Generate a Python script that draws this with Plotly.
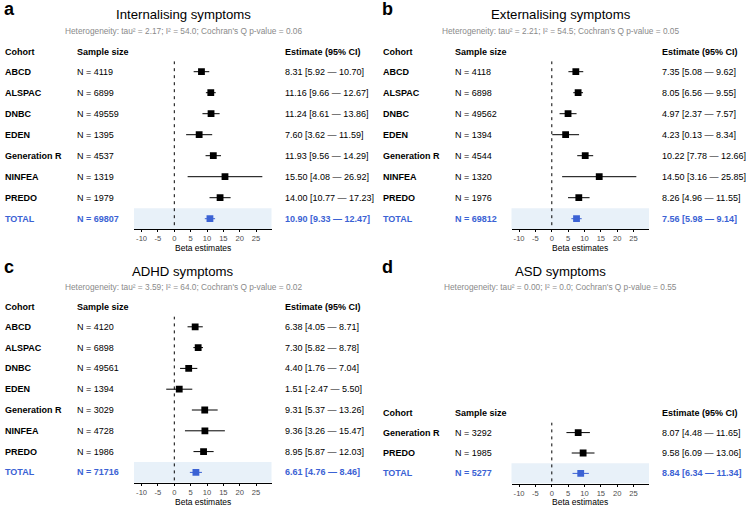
import plotly.graph_objects as go

# ---------------- DATA ----------------
panel_letters = ["a", "b", "c", "d"]
panel_titles = ["Internalising symptoms", "Externalising symptoms", "ADHD symptoms", "ASD symptoms"]

cohorts_7 = ["ABCD", "ALSPAC", "DNBC", "EDEN", "Generation R", "NINFEA", "PREDO"]
cohorts_asd = ["Generation R", "PREDO"]

# a: Internalising
n_int = [4119, 6899, 49559, 1395, 4537, 1319, 1979]
est_int = [8.31, 11.16, 11.24, 7.60, 11.93, 15.50, 14.00]
lo_int = [5.92, 9.66, 8.61, 3.62, 9.56, 4.08, 10.77]
hi_int = [10.70, 12.67, 13.86, 11.59, 14.29, 26.92, 17.23]
tot_int = dict(n=69807, est=10.90, lo=9.33, hi=12.47)
het_int = dict(tau2=2.17, i2=54.0, p=0.06)

# b: Externalising
n_ext = [4118, 6898, 49562, 1394, 4544, 1320, 1976]
est_ext = [7.35, 8.05, 4.97, 4.23, 10.22, 14.50, 8.26]
lo_ext = [5.08, 6.56, 2.37, 0.13, 7.78, 3.16, 4.96]
hi_ext = [9.62, 9.55, 7.57, 8.34, 12.66, 25.85, 11.55]
tot_ext = dict(n=69812, est=7.56, lo=5.98, hi=9.14)
het_ext = dict(tau2=2.21, i2=54.5, p=0.05)

# c: ADHD
n_adhd = [4120, 6898, 49561, 1394, 3029, 4728, 1986]
est_adhd = [6.38, 7.30, 4.40, 1.51, 9.31, 9.36, 8.95]
lo_adhd = [4.05, 5.82, 1.76, -2.47, 5.37, 3.26, 5.87]
hi_adhd = [8.71, 8.78, 7.04, 5.50, 13.26, 15.47, 12.03]
tot_adhd = dict(n=71716, est=6.61, lo=4.76, hi=8.46)
het_adhd = dict(tau2=3.59, i2=64.0, p=0.02)

# d: ASD
n_asd = [3292, 1985]
est_asd = [8.07, 9.58]
lo_asd = [4.48, 6.09]
hi_asd = [11.65, 13.06]
tot_asd = dict(n=5277, est=8.84, lo=6.34, hi=11.34)
het_asd = dict(tau2=0.00, i2=0.0, p=0.55)

x_ticks = [-10, -5, 0, 5, 10, 15, 20, 25]
x_ticktext = ["-10", "-5", "0", "5", "10", "15", "20", "25"]
x_title = "Beta estimates"
headers = ["Cohort", "Sample size", "Estimate (95% CI)"]

panels = [
    (cohorts_7, n_int, est_int, lo_int, hi_int, tot_int, het_int),
    (cohorts_7, n_ext, est_ext, lo_ext, hi_ext, tot_ext, het_ext),
    (cohorts_7, n_adhd, est_adhd, lo_adhd, hi_adhd, tot_adhd, het_adhd),
    (cohorts_asd, n_asd, est_asd, lo_asd, hi_asd, tot_asd, het_asd),
]

# ---------------- LAYOUT (pixel geometry) ----------------
W, H = 747, 508
FONT = "Liberation Sans, Arial, Helvetica, sans-serif"
BLUE = "#3B62D4"
BAND = "#E8F1F9"

geom = [
    dict(dx=0.0, title_y=14.5, sub_y=30.5, row0=71.7, step=21.0),
    dict(dx=377.5, title_y=14.5, sub_y=30.5, row0=71.7, step=21.0),
    dict(dx=0.0, title_y=271.5, sub_y=286.5, row0=326.8, step=20.8),
    dict(dx=377.5, title_y=271.5, sub_y=286.5, row0=432.6, step=20.4),
]
X_COH, X_N, X_EST = 3.0, 75.0, 282.7
PX0, PX1 = 134.0, 271.5
ZERO_PX, PX_PER_UNIT = 174.3, 3.27
TITLE_CX = 183.0


def px(x):
    return x / W


def py(y):
    return 1 - y / H


fig = go.Figure()
annotations = []
shapes = []

for k, (coh, ns, est, lo, hi, tot, het) in enumerate(panels):
    g = geom[k]
    dx = g["dx"]
    sfx = "" if k == 0 else str(k + 1)
    xa, ya = "x" + sfx, "y" + sfx
    nrows = len(coh) + 1
    top = g["row0"] - g["step"] / 2
    bot = g["row0"] + (nrows - 0.5) * g["step"]

    x_lo = (PX0 - ZERO_PX) / PX_PER_UNIT
    x_hi = (PX1 - ZERO_PX) / PX_PER_UNIT

    fig.update_layout(**{
        "xaxis" + sfx: dict(
            domain=[px(PX0 + dx), px(PX1 + dx)], range=[x_lo, x_hi], anchor=ya,
            showgrid=False, zeroline=False, showline=True, linecolor="black", linewidth=1,
            ticks="outside", ticklen=2, tickcolor="black", tickwidth=1,
            tickvals=x_ticks, ticktext=x_ticktext,
            tickfont=dict(size=7.6, color="#4d4d4d", family=FONT),
            fixedrange=True,
        ),
        "yaxis" + sfx: dict(
            domain=[py(bot), py(top)], range=[nrows - 0.5, -0.5], anchor=xa,
            visible=False, fixedrange=True,
        ),
    })

    # total band
    shapes.append(dict(type="rect", xref=xa + " domain", yref=ya, x0=0, x1=1,
                       y0=nrows - 1.5, y1=nrows - 0.5, fillcolor=BAND,
                       line=dict(width=0), layer="below"))
    # zero line
    shapes.append(dict(type="line", xref=xa, yref=ya, x0=0, x1=0, y0=-0.5, y1=nrows - 0.5,
                       line=dict(color="black", width=1, dash="3px,4px"), layer="above"))

    rows = list(range(len(coh)))
    fig.add_trace(go.Scatter(
        x=est, y=rows, xaxis=xa, yaxis=ya, mode="markers",
        marker=dict(symbol="square", size=6.8, color="black"),
        error_x=dict(type="data", symmetric=False,
                     array=[h - e for h, e in zip(hi, est)],
                     arrayminus=[e - l for e, l in zip(est, lo)],
                     width=0, thickness=1, color="black"),
        showlegend=False, hoverinfo="skip",
    ))
    fig.add_trace(go.Scatter(
        x=[tot["est"]], y=[nrows - 1], xaxis=xa, yaxis=ya, mode="markers",
        marker=dict(symbol="square", size=6.8, color=BLUE),
        error_x=dict(type="data", symmetric=False,
                     array=[tot["hi"] - tot["est"]], arrayminus=[tot["est"] - tot["lo"]],
                     width=0, thickness=1, color=BLUE),
        showlegend=False, hoverinfo="skip",
    ))

    # panel letter, title, subtitle
    annotations.append(dict(text="<b>" + panel_letters[k] + "</b>", x=px(2.0 + dx), y=py(g["title_y"] - 5.0),
                            xref="paper", yref="paper", xanchor="left", yanchor="middle", showarrow=False,
                            font=dict(size=18, color="black", family=FONT)))
    annotations.append(dict(text=panel_titles[k], x=px(TITLE_CX + dx), y=py(g["title_y"]),
                            xref="paper", yref="paper", xanchor="center", yanchor="middle", showarrow=False,
                            font=dict(size=13.2, color="black", family=FONT)))
    sub = "Heterogeneity: tau² = %.2f; I² = %.1f; Cochran's Q p-value = %.2f" % (het["tau2"], het["i2"], het["p"])
    annotations.append(dict(text=sub, x=px(TITLE_CX + dx), y=py(g["sub_y"]),
                            xref="paper", yref="paper", xanchor="center", yanchor="middle", showarrow=False,
                            font=dict(size=8.3, color="#8a8a8a", family=FONT)))

    # headers
    hdr_y = g["row0"] - 19.4
    for hx, htxt in zip([X_COH, X_N, X_EST], headers):
        annotations.append(dict(text="<b>" + htxt + "</b>", x=px(hx + dx), y=py(hdr_y),
                                xref="paper", yref="paper", xanchor="left", yanchor="middle", showarrow=False,
                                font=dict(size=9, color="black", family=FONT)))

    # row texts
    labels = list(coh) + ["TOTAL"]
    nvals = list(ns) + [tot["n"]]
    evals = list(est) + [tot["est"]]
    lvals = list(lo) + [tot["lo"]]
    hvals = list(hi) + [tot["hi"]]
    for i in range(nrows):
        is_tot = i == nrows - 1
        col = BLUE if is_tot else "black"
        b0, b1 = ("<b>", "</b>") if is_tot else ("", "")
        annotations.append(dict(text="<b>" + labels[i] + "</b>", x=px(X_COH + dx), y=i,
                                xref="paper", yref=ya, xanchor="left", yanchor="middle", showarrow=False,
                                font=dict(size=9, color=col, family=FONT)))
        annotations.append(dict(text=b0 + "N = %d" % nvals[i] + b1, x=px(X_N + dx), y=i,
                                xref="paper", yref=ya, xanchor="left", yanchor="middle", showarrow=False,
                                font=dict(size=9, color=col, family=FONT)))
        etxt = "%.2f [%.2f — %.2f]" % (evals[i], lvals[i], hvals[i])
        annotations.append(dict(text=b0 + etxt + b1, x=px(X_EST + dx), y=i,
                                xref="paper", yref=ya, xanchor="left", yanchor="middle", showarrow=False,
                                font=dict(size=9, color=col, family=FONT)))

    # axis title
    ty = min(bot + 18.8, 502.3)
    annotations.append(dict(text=x_title, x=px((PX0 + PX1) / 2 + dx), y=py(ty),
                            xref="paper", yref="paper", xanchor="center", yanchor="middle", showarrow=False,
                            borderpad=0, font=dict(size=8.5, color="black", family=FONT)))

fig.update_layout(
    width=W, height=H, margin=dict(l=0, r=0, t=0, b=0),
    paper_bgcolor="white", plot_bgcolor="rgba(0,0,0,0)",
    annotations=annotations, shapes=shapes, showlegend=False,
    font=dict(family=FONT),
)

fig.write_html("out.html")
